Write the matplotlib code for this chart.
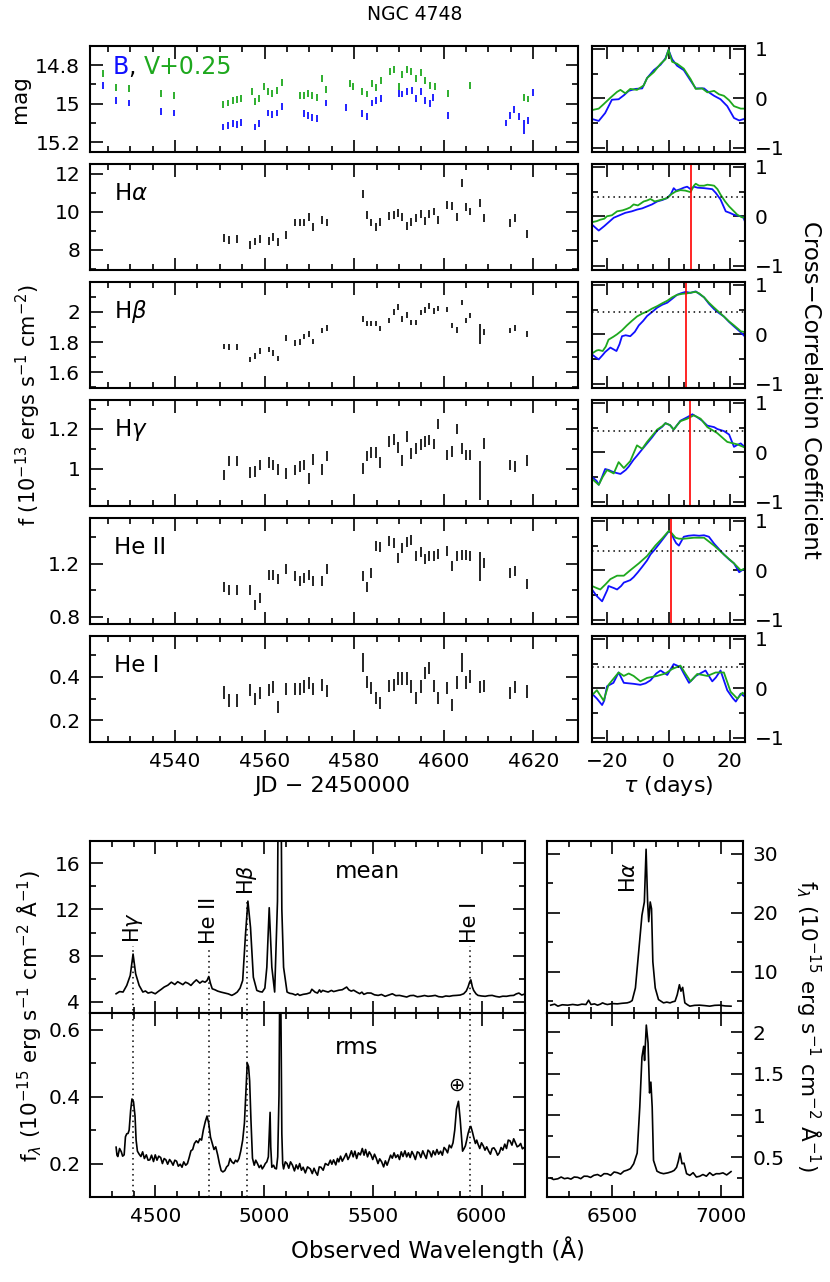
import matplotlib
matplotlib.use('Agg')
import matplotlib.pyplot as plt
from matplotlib.ticker import MultipleLocator, FuncFormatter

plt.rcParams['font.family'] = ['DejaVu Sans']
plt.rcParams['mathtext.fontset'] = 'dejavusans'

BLUE = '#1010ff'
GREEN = '#1ea81e'

# ---------------- photometry (B and V+0.25) ----------------
v_jd = [4523.8, 4526.8, 4529.8, 4536.8, 4539.8, 4550.7, 4551.8, 4552.9, 4553.8, 4554.8,
        4557.2, 4557.8, 4558.7, 4559.8, 4560.8, 4561.7, 4562.8, 4563.8, 4567.9, 4568.8,
        4569.7, 4570.6, 4571.6, 4572.9, 4573.8, 4579.0, 4579.8, 4581.8, 4582.8, 4583.9,
        4584.9, 4585.9, 4588.0, 4588.9, 4590.0, 4590.8, 4591.7, 4592.8, 4593.8, 4594.9,
        4595.8, 4596.9, 4598.0, 4600.9, 4605.8, 4617.9, 4618.8]
v_mag = [14.843, 14.918, 14.92, 14.945, 14.957, 15.004, 14.997, 14.983, 14.978, 14.974,
         14.939, 14.99, 14.974, 14.91, 14.936, 14.948, 14.93, 14.89, 14.96, 14.957,
         14.948, 14.957, 14.97, 14.87, 14.927, 14.896, 14.91, 14.939, 14.95, 14.896,
         14.918, 14.878, 14.835, 14.822, 14.913, 14.849, 14.822, 14.831, 14.87, 14.84,
         14.882, 14.904, 14.913, 14.948, 14.908, 14.969, 14.976]
v_err = [0.018] * len(v_jd)

b_jd = [4523.8, 4526.8, 4529.8, 4536.8, 4539.8, 4550.7, 4551.8, 4552.9, 4553.8, 4554.8,
        4557.8, 4558.7, 4560.8, 4561.7, 4562.8, 4563.8, 4568.8, 4569.7, 4570.6, 4571.6,
        4573.8, 4578.2, 4581.8, 4582.8, 4583.9, 4584.9, 4585.9, 4590.0, 4590.8, 4591.8,
        4592.9, 4593.8, 4594.9, 4595.8, 4596.9, 4597.7, 4600.9, 4613.9, 4614.9, 4615.8,
        4616.9, 4617.9, 4618.8, 4619.9]
b_mag = [14.904, 14.983, 14.997, 15.039, 15.049, 15.122, 15.113, 15.105, 15.108, 15.098,
         15.122, 15.105, 15.049, 15.058, 15.049, 15.014, 15.052, 15.061, 15.07, 15.078,
         14.997, 15.018, 15.052, 15.065, 14.997, 14.983, 14.974, 14.945, 14.95, 14.937,
         14.934, 14.974, 14.939, 14.983, 15.0, 14.97, 15.061, 15.101, 15.061, 15.031,
         15.066, 15.122, 15.087, 14.943]
b_err = [0.018] * 41 + [0.037, 0.018, 0.018]

# ---------------- emission-line light curves ----------------
line_jd = [4550.9, 4552.0, 4553.9, 4556.8, 4557.9, 4558.9, 4560.9, 4561.9, 4562.9, 4564.8,
           4566.8, 4567.8, 4568.9, 4569.9, 4570.9, 4572.8, 4573.9, 4581.9, 4582.8, 4583.8,
           4584.8, 4585.7, 4587.8, 4588.8, 4589.9, 4590.8, 4591.8, 4592.8, 4593.9, 4594.9,
           4595.8, 4596.8, 4597.8, 4598.8, 4600.8, 4601.9, 4602.9, 4604.0, 4605.0, 4605.9,
           4608.0, 4608.9, 4614.9, 4615.9, 4618.7]
ha_flux = [8.61, 8.53, 8.56, 8.26, 8.44, 8.56, 8.49, 8.67, 8.39, 8.79,
           9.44, 9.44, 9.44, 9.72, 9.19, 9.58, 9.44, 10.93, 9.84, 9.44,
           9.19, 9.49, 9.79, 9.84, 9.96, 9.72, 9.26, 9.49, 9.67, 9.88,
           9.54, 9.89, 10.02, 9.58, 10.37, 10.32, 9.75, 11.54, 10.25, 10.02,
           10.49, 9.70, 9.40, 9.67, 8.84]
ha_err = [0.21] * 45
hb_flux = [1.772, 1.767, 1.767, 1.685, 1.707, 1.741, 1.75, 1.728, 1.691, 1.826,
           1.793, 1.80, 1.837, 1.854, 1.804, 1.876, 1.893, 1.952, 1.924, 1.924,
           1.924, 1.891, 1.941, 2.0, 2.033, 1.952, 1.98, 1.93, 1.93, 1.996,
           2.011, 2.039, 2.007, 2.024, 2.017, 1.909, 1.88, 2.061, 1.941, 1.974,
           1.854, 1.865, 1.876, 1.893, 1.854]
hb_err = [0.018] * 40 + [0.067] + [0.018] * 4
hg_flux = [0.97, 1.04, 1.04, 0.983, 0.987, 1.02, 1.032, 1.02, 0.998, 0.978,
           0.995, 1.012, 1.02, 0.953, 1.048, 0.998, 1.065, 1.003, 1.065, 1.082,
           1.082, 1.033, 1.137, 1.148, 1.108, 1.042, 1.162, 1.078, 1.103, 1.123,
           1.137, 1.145, 1.125, 1.225, 1.07, 1.087, 1.2, 1.103, 1.07, 1.07,
           0.942, 1.128, 1.02, 1.012, 1.042]
hg_err = [0.026] * 40 + [0.096] + [0.026] * 4
he2_flux = [1.026, 1.006, 1.006, 1.006, 0.893, 0.943, 1.119, 1.119, 1.087, 1.162,
            1.112, 1.074, 1.094, 1.119, 1.069, 1.069, 1.162, 1.107, 1.026, 1.132,
            1.333, 1.328, 1.371, 1.358, 1.245, 1.321, 1.364, 1.384, 1.263, 1.288,
            1.238, 1.258, 1.263, 1.278, 1.296, 1.182, 1.263, 1.27, 1.27, 1.263,
            1.182, 1.208, 1.132, 1.145, 1.052]
he2_err = [0.038] * 40 + [0.11] + [0.038] * 4
he1_flux = [0.327, 0.291, 0.291, 0.339, 0.297, 0.324, 0.339, 0.352, 0.261, 0.342,
            0.342, 0.342, 0.355, 0.37, 0.342, 0.362, 0.336, 0.465, 0.377, 0.347,
            0.302, 0.279, 0.358, 0.362, 0.392, 0.392, 0.392, 0.355, 0.302, 0.355,
            0.418, 0.438, 0.358, 0.302, 0.347, 0.271, 0.373, 0.464, 0.373, 0.40,
            0.352, 0.358, 0.324, 0.352, 0.332]
he1_err = [0.028] * 17 + [0.042] + [0.028] * 19 + [0.042] + [0.028] * 7

# ---------------- cross-correlation functions ----------------
acf_b_tau = [-25.0, -22.8, -20.7, -18.5, -16.3, -14.6, -13.0, -10.8, -8.6, -7.0, -4.8, -2.6, -1.0, 0.0,
             1.2, 2.8, 5.0, 7.2, 8.9, 11.6, 13.2, 14.9, 17.0, 19.2, 21.4, 23.1, 24.7, 25.2]
acf_b = [-0.42, -0.46, -0.30, -0.03, -0.02, 0.06, 0.15, 0.19, 0.20, 0.41, 0.57, 0.68, 0.81, 0.98,
         0.79, 0.66, 0.57, 0.36, 0.20, 0.20, 0.12, 0.05, -0.02, -0.16, -0.40, -0.45, -0.42, -0.43]
acf_v_tau = [-25.0, -22.8, -21.2, -19.0, -16.8, -15.7, -14.1, -12.5, -10.3, -8.1, -7.0, -4.8, -2.6, -1.0,
             0.0, 1.2, 2.8, 5.0, 7.2, 8.9, 11.0, 12.7, 14.9, 16.5, 18.1, 19.8, 21.4, 23.6, 25.2]
acf_v = [-0.24, -0.21, -0.12, 0.01, 0.13, 0.17, 0.10, 0.19, 0.17, 0.26, 0.41, 0.53, 0.70, 0.79,
         0.98, 0.74, 0.70, 0.60, 0.39, 0.19, 0.20, 0.12, 0.15, 0.08, 0.05, -0.04, -0.16, -0.21, -0.21]

ha_b_tau = [-25.0, -22.8, -21.0, -17.9, -16.0, -14.1, -12.0, -10.3, -8.6, -7.0, -5.4, -3.7, -2.0, -0.4,
            0.8, 1.7, 2.5, 3.9, 5.0, 6.1, 7.2, 8.3, 9.5, 11.6, 13.0, 14.3, 15.5, 17.0, 18.7, 20.0,
            21.4, 23.6, 24.5, 25.2]
ha_b = [-0.17, -0.29, -0.20, -0.03, 0.02, 0.07, 0.10, 0.135, 0.16, 0.20, 0.24, 0.30, 0.33, 0.37,
        0.45, 0.57, 0.52, 0.55, 0.58, 0.60, 0.55, 0.60, 0.58, 0.57, 0.56, 0.55, 0.47, 0.34, 0.10, 0.07,
        0.03, 0.0, -0.03, -0.14]
ha_v_tau = [-25.0, -23.5, -22.3, -21.0, -20.1, -18.5, -16.8, -15.0, -13.6, -12.5, -11.4, -10.0, -8.1,
            -7.0, -5.9, -4.5, -2.6, -0.4, 1.0, 2.3, 3.9, 5.5, 7.2, 8.3, 8.9, 10.0, 11.6, 12.7, 14.0,
            14.9, 16.0, 17.0, 18.5, 19.8, 21.4, 22.5, 24.0, 25.2]
ha_v = [-0.12, -0.10, -0.07, -0.05, 0.0, 0.02, 0.10, 0.12, 0.15, 0.18, 0.24, 0.22, 0.30,
        0.32, 0.35, 0.30, 0.33, 0.37, 0.45, 0.50, 0.53, 0.52, 0.49, 0.62, 0.66, 0.62, 0.62, 0.64, 0.63,
        0.62, 0.55, 0.44, 0.30, 0.20, 0.10, 0.03, -0.02, -0.03]

hb_b_tau = [-25.0, -23.5, -22.8, -21.5, -20.7, -19.0, -17.0, -16.0, -15.2, -14.0, -12.5, -11.0, -9.7,
            -8.3, -7.0, -5.4, -3.7, -2.0, -0.4, 1.2, 2.8, 4.0, 5.6, 7.2, 8.9, 10.0, 11.6, 13.2, 14.9,
            16.5, 18.1, 19.8, 21.4, 22.5, 23.6, 25.2]
hb_b = [-0.41, -0.48, -0.51, -0.42, -0.36, -0.27, -0.34, -0.20, -0.04, -0.02, -0.04, 0.05, 0.18,
        0.27, 0.37, 0.45, 0.54, 0.60, 0.64, 0.72, 0.80, 0.83, 0.86, 0.84, 0.87, 0.82, 0.75, 0.62, 0.51,
        0.43, 0.36, 0.25, 0.16, 0.10, 0.04, -0.06]
hb_v_tau = [-25.0, -23.5, -22.8, -21.5, -20.5, -19.6, -18.0, -16.8, -15.2, -13.6, -12.0, -10.3, -8.6,
            -7.0, -5.4, -3.7, -2.0, -0.4, 1.2, 2.8, 4.5, 6.1, 7.8, 8.9, 10.0, 11.6, 13.2, 14.9, 16.5,
            18.1, 19.8, 21.4, 23.1, 23.6, 25.2]
hb_v = [-0.39, -0.33, -0.32, -0.34, -0.25, -0.11, -0.05, 0.0, 0.08, 0.18, 0.27, 0.36, 0.42,
        0.46, 0.52, 0.57, 0.63, 0.68, 0.75, 0.80, 0.82, 0.83, 0.85, 0.86, 0.83, 0.75, 0.64, 0.54, 0.45,
        0.36, 0.26, 0.18, 0.09, 0.06, 0.04]

hg_b_tau = [-25.0, -23.5, -22.8, -21.7, -20.7, -19.5, -18.5, -17.0, -15.7, -14.0, -13.0, -11.4, -10.3,
            -8.6, -7.0, -5.4, -3.7, -2.0, -1.0, 0.5, 1.7, 2.8, 3.9, 6.1, 7.8, 9.4, 11.0, 12.7, 14.9,
            16.0, 18.1, 19.8, 21.4, 22.5, 23.6, 25.2]
hg_b = [-0.50, -0.58, -0.66, -0.50, -0.34, -0.36, -0.39, -0.42, -0.44, -0.36, -0.29, -0.15, -0.07,
        0.06, 0.18, 0.30, 0.44, 0.52, 0.59, 0.55, 0.46, 0.55, 0.64, 0.71, 0.77, 0.71, 0.64, 0.54, 0.51,
        0.47, 0.43, 0.36, 0.11, 0.15, 0.18, 0.09]
hg_v_tau = [-25.0, -22.8, -21.5, -20.1, -18.8, -17.9, -16.3, -14.6, -12.5, -10.3, -8.6, -7.0, -5.4,
            -3.7, -2.0, -1.0, 0.5, 1.7, 2.8, 3.9, 6.1, 8.3, 10.5, 12.7, 15.9, 19.2, 22.5, 25.2]
hg_v = [-0.54, -0.66, -0.50, -0.36, -0.40, -0.43, -0.20, -0.32, -0.18, 0.14, 0.07, 0.21, 0.33,
        0.46, 0.53, 0.59, 0.55, 0.46, 0.55, 0.63, 0.68, 0.75, 0.68, 0.51, 0.39, 0.21, 0.16, 0.09]

he2_b_tau = [-25.0, -23.5, -21.7, -20.0, -19.6, -17.9, -16.8, -15.5, -14.6, -12.5, -11.4, -10.0, -8.6,
             -7.0, -5.9, -4.5, -2.6, -1.0, 0.1, 1.0, 1.7, 2.5, 3.4, 5.0, 6.5, 8.3, 10.0, 11.6, 13.2,
             14.9, 16.5, 18.1, 19.8, 21.4, 23.1, 24.0, 25.2]
he2_b = [-0.39, -0.52, -0.63, -0.40, -0.32, -0.36, -0.39, -0.32, -0.25, -0.20, -0.14, -0.04, 0.07,
         0.20, 0.32, 0.42, 0.57, 0.70, 0.79, 0.75, 0.64, 0.55, 0.50, 0.68, 0.70, 0.71, 0.70, 0.71, 0.68,
         0.54, 0.43, 0.32, 0.22, 0.14, -0.04, 0.0, 0.04]
he2_v_tau = [-25.0, -23.5, -22.3, -20.5, -19.0, -16.8, -14.6, -12.5, -9.7, -7.0, -4.3, -2.0, 0.1,
             1.2, 2.3, 3.4, 5.0, 8.3, 11.6, 14.9, 18.1, 21.4, 23.6, 25.2]
he2_v = [-0.32, -0.36, -0.39, -0.28, -0.18, -0.11, -0.11, 0.0, 0.14, 0.29, 0.50, 0.65, 0.80,
         0.74, 0.66, 0.64, 0.64, 0.66, 0.66, 0.50, 0.32, 0.14, 0.0, 0.04]

he1_b_tau = [-25.0, -23.4, -21.7, -21.0, -20.1, -18.0, -16.3, -14.6, -11.4, -9.2, -7.5, -5.9, -4.0,
             -2.6, -0.4, 1.7, 3.9, 5.0, 6.7, 8.9, 12.1, 14.3, 15.5, 17.0, 19.2, 21.0, 22.0, 23.6, 25.2]
he1_b = [-0.11, -0.21, -0.34, -0.25, 0.04, 0.11, 0.32, 0.11, 0.09, 0.07, 0.10, 0.16, 0.30,
         0.36, 0.27, 0.49, 0.43, 0.30, 0.11, 0.25, 0.36, 0.14, 0.22, 0.36, -0.04, -0.20, -0.27, -0.11, -0.18]
he1_v_tau = [-25.0, -23.4, -21.2, -19.6, -16.3, -14.6, -13.0, -11.4, -9.2, -7.0, -3.7, -1.0, 1.2,
             3.9, 5.5, 7.2, 9.4, 12.7, 15.4, 18.1, 20.3, 22.5, 24.2, 25.2]
he1_v = [-0.14, -0.04, -0.25, 0.07, 0.32, 0.25, 0.30, 0.25, 0.14, 0.21, 0.25, 0.30, 0.39,
         0.46, 0.30, 0.14, 0.29, 0.25, 0.32, 0.32, -0.07, -0.21, -0.09, -0.14]

lag_peak = [None, 7.5, 5.7, 7.1, 0.9, None]
ccf_level = [None, 0.39, 0.46, 0.43, 0.39, 0.44]

# ---------------- spectra ----------------
blue_wave = [4320, 4336, 4352, 4369, 4385, 4398, 4410, 4426, 4443, 4455, 4467, 4483, 4500, 4516,
             4528, 4541, 4558, 4574, 4590, 4603, 4615, 4627, 4639, 4652, 4664, 4677, 4689, 4705,
             4717, 4729, 4738, 4746, 4754, 4762, 4775, 4787, 4803, 4820, 4836, 4852, 4865, 4877,
             4890, 4902, 4915, 4926, 4938, 4951, 4967, 4980, 4992, 5004, 5013, 5024, 5036, 5049,
             5062, 5072, 5082, 5090, 5106, 5118, 5131, 5145, 5155, 5164, 5180, 5197, 5212, 5220,
             5226, 5235, 5246, 5255, 5262, 5270, 5283, 5295, 5310, 5320, 5328, 5345, 5360, 5372,
             5380, 5390, 5401, 5412, 5426, 5440, 5450, 5459, 5475, 5492, 5508, 5525, 5540, 5557,
             5573, 5590, 5606, 5623, 5640, 5656, 5672, 5688, 5705, 5721, 5738, 5754, 5770, 5787,
             5803, 5820, 5836, 5852, 5868, 5885, 5902, 5918, 5930, 5938, 5945, 5951, 5958, 5964,
             5975, 5984, 6000, 6017, 6033, 6049, 6066, 6082, 6098, 6115, 6131, 6148, 6160, 6172,
             6185, 6194]
mean_blue = [4.71, 4.9, 4.86, 5.43, 6.29, 8.14, 6.43, 5.43, 4.86, 4.95, 4.77, 4.85, 4.71, 4.94,
             5.1, 5.29, 5.45, 5.71, 5.51, 5.75, 5.63, 5.5, 5.71, 5.6, 5.43, 5.7, 5.91, 5.63,
             5.8, 5.71, 5.85, 6.2, 5.6, 5.14, 5.05, 4.94, 4.85, 4.77, 4.7, 4.57, 4.7, 4.86,
             5.2, 5.86, 9.86, 12.71, 10.43, 6.14, 5.0, 4.9, 4.86, 5.2, 7.0, 12.14, 7.0, 4.86,
             12.7, 40.0, 12.0, 7.0, 4.86, 4.75, 4.71, 4.6, 4.7, 4.57, 4.66, 4.71, 4.8, 5.1,
             5.0, 4.85, 4.77, 5.05, 4.85, 5.0, 4.92, 4.86, 5.0, 4.9, 4.94, 5.02, 5.06, 5.2,
             5.29, 5.05, 4.94, 5.02, 4.86, 4.72, 4.85, 4.66, 4.78, 4.77, 4.62, 4.57, 4.65, 4.49,
             4.6, 4.71, 4.55, 4.57, 4.5, 4.43, 4.55, 4.57, 4.45, 4.49, 4.56, 4.49, 4.52, 4.57,
             4.46, 4.43, 4.52, 4.49, 4.55, 4.57, 4.6, 4.71, 4.95, 5.29, 5.7, 5.91, 5.3, 5.0,
             4.7, 4.57, 4.52, 4.49, 4.55, 4.57, 4.48, 4.43, 4.5, 4.49, 4.55, 4.57, 4.7, 4.77,
             4.6, 4.66]
rms_wave = [4320, 4324, 4328, 4336, 4344, 4350, 4357, 4363, 4369, 4375, 4380, 4387, 4393, 4400,
            4407, 4412, 4418, 4426, 4434, 4442, 4450, 4459, 4467, 4475, 4483, 4492, 4500, 4508,
            4516, 4525, 4533, 4541, 4549, 4557, 4566, 4574, 4582, 4590, 4598, 4606, 4615, 4623,
            4631, 4640, 4648, 4656, 4664, 4672, 4680, 4689, 4697, 4705, 4713, 4721, 4730, 4738,
            4746, 4754, 4762, 4770, 4778, 4787, 4795, 4803, 4811, 4820, 4828, 4836, 4844, 4852,
            4861, 4869, 4877, 4885, 4893, 4902, 4910, 4917, 4923, 4929, 4934, 4940, 4947, 4955,
            4962, 4970, 4978, 4986, 4992, 5000, 5006, 5013, 5020, 5025, 5028, 5031, 5036, 5044,
            5050, 5057, 5063, 5069, 5072, 5075, 5078, 5082, 5086, 5090, 5098, 5106, 5114, 5122,
            5131, 5140, 5148, 5156, 5164, 5172, 5180, 5190, 5200, 5213, 5222, 5230, 5238, 5246,
            5254, 5262, 5272, 5282, 5295, 5305, 5312, 5320, 5330, 5338, 5344, 5352, 5360, 5369,
            5378, 5386, 5393, 5402, 5410, 5418, 5426, 5434, 5443, 5452, 5460, 5467, 5476, 5484,
            5492, 5500, 5508, 5516, 5524, 5532, 5541, 5550, 5558, 5566, 5574, 5582, 5590, 5598,
            5606, 5615, 5623, 5631, 5639, 5648, 5656, 5664, 5672, 5680, 5688, 5696, 5705, 5713,
            5721, 5730, 5738, 5746, 5754, 5762, 5770, 5778, 5787, 5795, 5803, 5812, 5820, 5828,
            5836, 5844, 5852, 5861, 5869, 5877, 5885, 5894, 5902, 5908, 5913, 5920, 5926, 5932,
            5938, 5945, 5951, 5958, 5964, 5972, 5978, 5984, 5992, 6000, 6008, 6016, 6024, 6033,
            6041, 6049, 6057, 6066, 6074, 6082, 6090, 6098, 6107, 6115, 6123, 6131, 6140, 6148,
            6156, 6164, 6172, 6180, 6188, 6194]
rms_blue = [0.249, 0.225, 0.221, 0.245, 0.235, 0.222, 0.226, 0.28, 0.289, 0.29, 0.30, 0.36, 0.393, 0.385,
            0.342, 0.27, 0.237, 0.228, 0.221, 0.235, 0.215, 0.226, 0.21, 0.211, 0.225, 0.206, 0.226, 0.21,
            0.222, 0.218, 0.20, 0.215, 0.211, 0.198, 0.212, 0.205, 0.195, 0.21, 0.207, 0.192, 0.198, 0.189,
            0.205, 0.195, 0.20, 0.218, 0.238, 0.242, 0.26, 0.268, 0.262, 0.274, 0.27, 0.30, 0.325, 0.342,
            0.32, 0.279, 0.26, 0.242, 0.25, 0.226, 0.20, 0.179, 0.175, 0.179, 0.19, 0.195, 0.215, 0.205,
            0.20, 0.21, 0.205, 0.215, 0.237, 0.27, 0.321, 0.42, 0.50, 0.49, 0.447, 0.33, 0.216, 0.195,
            0.21, 0.20, 0.188, 0.195, 0.184, 0.192, 0.20, 0.205, 0.22, 0.30, 0.353, 0.25, 0.189, 0.195,
            0.186, 0.184, 0.22, 0.405, 0.70, 0.90, 0.65, 0.289, 0.20, 0.184, 0.205, 0.20, 0.186, 0.205,
            0.195, 0.178, 0.196, 0.184, 0.20, 0.18, 0.189, 0.172, 0.19, 0.184, 0.17, 0.186, 0.174, 0.165,
            0.19, 0.189, 0.18, 0.20, 0.195, 0.21, 0.198, 0.211, 0.196, 0.215, 0.205, 0.222, 0.207, 0.218,
            0.23, 0.212, 0.221, 0.238, 0.22, 0.237, 0.215, 0.232, 0.226, 0.245, 0.225, 0.242, 0.22, 0.235,
            0.226, 0.212, 0.228, 0.216, 0.20, 0.214, 0.205, 0.19, 0.208, 0.195, 0.21, 0.225, 0.216, 0.232,
            0.218, 0.226, 0.212, 0.235, 0.221, 0.238, 0.22, 0.232, 0.218, 0.236, 0.226, 0.212, 0.235, 0.232,
            0.218, 0.238, 0.226, 0.215, 0.24, 0.235, 0.22, 0.238, 0.226, 0.242, 0.228, 0.237, 0.225, 0.248,
            0.242, 0.232, 0.255, 0.247, 0.262, 0.30, 0.363, 0.386, 0.332, 0.28, 0.237, 0.245, 0.253, 0.27,
            0.289, 0.305, 0.311, 0.295, 0.279, 0.26, 0.27, 0.258, 0.245, 0.262, 0.253, 0.24, 0.25, 0.237,
            0.228, 0.245, 0.247, 0.238, 0.225, 0.232, 0.248, 0.24, 0.258, 0.245, 0.27, 0.268, 0.255, 0.274,
            0.262, 0.25, 0.253, 0.26, 0.244, 0.247]

red_wave = [6217, 6235, 6250, 6270, 6295, 6318, 6341, 6360, 6379, 6391, 6402, 6418, 6432, 6445,
            6455, 6466, 6477, 6500, 6523, 6545, 6568, 6580, 6591, 6606, 6621, 6636, 6647, 6655,
            6662, 6667, 6674, 6680, 6686, 6697, 6712, 6735, 6750, 6765, 6777, 6788, 6798, 6808,
            6815, 6823, 6833, 6845, 6856, 6878, 6901, 6925, 6947, 6970, 6992, 7018, 7045]
mean_red = [4.33, 4.5, 4.16, 4.4, 4.33, 4.45, 4.33, 4.5, 4.44, 5.17, 4.44, 4.55, 4.33, 4.5,
            4.72, 4.55, 4.44, 4.6, 4.55, 4.65, 4.72, 4.85, 5.11, 7.25, 13.4, 19.6, 21.85, 30.8,
            21.85, 18.5, 21.85, 20.7, 11.7, 7.25, 5.28, 4.72, 4.85, 4.72, 4.9, 5.0, 6.1, 7.8,
            6.7, 7.35, 4.72, 4.4, 4.16, 4.3, 4.33, 4.25, 4.16, 4.3, 4.33, 4.2, 4.16]
rms_red_wave = [6217, 6230, 6250, 6265, 6280, 6295, 6310, 6325, 6341, 6355, 6370, 6386, 6400, 6415,
                6432, 6447, 6462, 6477, 6492, 6508, 6523, 6538, 6553, 6568, 6583, 6598, 6614, 6626,
                6636, 6644, 6648, 6656, 6664, 6671, 6677, 6683, 6689, 6705, 6720, 6735, 6755, 6773,
                6784, 6795, 6803, 6811, 6820, 6829, 6841, 6856, 6871, 6886, 6901, 6916, 6932, 6947,
                6962, 6977, 6992, 7008, 7025, 7045]
rms_red = [0.248, 0.23, 0.239, 0.26, 0.24, 0.248, 0.235, 0.26, 0.256, 0.24, 0.27, 0.269, 0.255, 0.28,
           0.29, 0.27, 0.30, 0.299, 0.28, 0.32, 0.312, 0.295, 0.33, 0.342, 0.36, 0.419, 0.547, 1.1,
           1.7, 1.83, 1.66, 2.085, 1.87, 1.27, 1.4, 1.1, 0.46, 0.33, 0.31, 0.30, 0.31, 0.325,
           0.34, 0.376, 0.45, 0.547, 0.419, 0.427, 0.30, 0.28, 0.312, 0.26, 0.269, 0.29, 0.27, 0.312,
           0.28, 0.30, 0.299, 0.31, 0.285, 0.325]

line_marks = ['H$\\gamma$', 'He II', 'H$\\beta$', 'He I']
line_wave = [4397, 4746, 4921, 5947]
line_top = [9.1, 9.0, 13.2, 9.1]

W, H = 830, 1282
fig = plt.figure(figsize=(W / 100, H / 100), dpi=100)


def px_axes(x0, y0, x1, y1):
    return fig.add_axes([x0 / W, 1 - y1 / H, (x1 - x0) / W, (y1 - y0) / H])


def ftext(x, y, s, **kw):
    fig.text(x / W, 1 - y / H, s, **kw)


def fmt(v, pos):
    if abs(v) < 1e-9:
        v = 0.0
    return ('%g' % v).replace('-', '\u2212')


def style(ax, xmaj, xmin, ymaj, ymin, right=False, xlab=True):
    ax.xaxis.set_major_locator(MultipleLocator(xmaj))
    ax.xaxis.set_minor_locator(MultipleLocator(xmin))
    ax.yaxis.set_major_locator(MultipleLocator(ymaj))
    ax.yaxis.set_minor_locator(MultipleLocator(ymin))
    ax.xaxis.set_major_formatter(FuncFormatter(fmt))
    ax.yaxis.set_major_formatter(FuncFormatter(fmt))
    ax.tick_params(which='both', direction='in', top=True, right=True, labelsize=14.5,
                   width=1.2, pad=7)
    ax.tick_params(which='major', length=9)
    ax.tick_params(which='minor', length=4.5)
    if right:
        ax.tick_params(labelleft=False, labelright=True)
    if not xlab:
        ax.tick_params(labelbottom=False)
    for s in ax.spines.values():
        s.set_linewidth(1.5)


rows = [(46, 152), (164, 270), (282, 388), (400, 506), (518, 624), (636, 742)]

# light-curve panels
ax = px_axes(90, rows[0][0], 578, rows[0][1])
ax.errorbar(v_jd, v_mag, yerr=v_err, fmt='none', ecolor=GREEN, elinewidth=1.3, capsize=0)
ax.errorbar(b_jd, b_mag, yerr=b_err, fmt='none', ecolor=BLUE, elinewidth=1.3, capsize=0)
ax.set_xlim(4521, 4630)
ax.set_ylim(15.252, 14.70)
style(ax, 20, 5, 0.2, 0.1, xlab=False)
t1 = ax.text(0.047, 0.74, 'B', color=BLUE, fontsize=17, transform=ax.transAxes, va='baseline')
t2 = ax.annotate(', ', xy=(1, 0), xycoords=t1, fontsize=17, color='k', va='bottom')
ax.annotate('V+0.25', xy=(1, 0), xycoords=t2, fontsize=17, color=GREEN, va='bottom')

panels = [
    ('H$\\alpha$', ha_flux, ha_err, (6.94, 12.52), 2, 1),
    ('H$\\beta$', hb_flux, hb_err, (1.495, 2.198), 0.2, 0.1),
    ('H$\\gamma$', hg_flux, hg_err, (0.815, 1.345), 0.2, 0.1),
    ('He II', he2_flux, he2_err, (0.747, 1.547), 0.4, 0.2),
    ('He I', he1_flux, he1_err, (0.102, 0.585), 0.2, 0.1),
]
for i, (name, flux, err, ylim, ymaj, ymin) in enumerate(panels):
    r = rows[i + 1]
    ax = px_axes(90, r[0], 578, r[1])
    ax.errorbar(line_jd, flux, yerr=err, fmt='none', ecolor='k', elinewidth=1.2, capsize=0)
    ax.set_xlim(4521, 4630)
    ax.set_ylim(*ylim)
    style(ax, 20, 5, ymaj, ymin, xlab=(i == 4))
    ax.text(0.05, 0.72, name, transform=ax.transAxes, fontsize=16.5, va='center')

# CCF panels
ccfs = [
    (acf_b_tau, acf_b, acf_v_tau, acf_v),
    (ha_b_tau, ha_b, ha_v_tau, ha_v),
    (hb_b_tau, hb_b, hb_v_tau, hb_v),
    (hg_b_tau, hg_b, hg_v_tau, hg_v),
    (he2_b_tau, he2_b, he2_v_tau, he2_v),
    (he1_b_tau, he1_b, he1_v_tau, he1_v),
]
for i, (tb, cb, tv, cv) in enumerate(ccfs):
    r = rows[i]
    ax = px_axes(592, r[0], 745, r[1])
    ax.plot(tb, cb, color=BLUE, lw=1.3)
    ax.plot(tv, cv, color=GREEN, lw=1.3)
    if ccf_level[i] is not None:
        ax.axhline(ccf_level[i], color='k', lw=1.1, ls=(0, (1, 2.5)))
    if lag_peak[i] is not None:
        ax.axvline(lag_peak[i], color='red', lw=1.2)
    ax.set_xlim(-25, 25)
    ax.set_ylim(-1.09, 1.06)
    style(ax, 20, 5, 1, 0.5, right=True, xlab=(i == 5))

# spectra
sp_rows = [(841, 1013), (1013, 1197)]
ax = px_axes(90, sp_rows[0][0], 525, sp_rows[0][1])
ax.plot(blue_wave, mean_blue, color='k', lw=1.2)
ax.set_xlim(4200, 6200)
ax.set_ylim(3.05, 17.9)
style(ax, 500, 100, 4, 2, xlab=False)
for name, wl, top in zip(line_marks, line_wave, line_top):
    ax.plot([wl, wl], [0, top - 0.3], color='k', lw=1.1, ls=(0, (1, 2.5)))
    ax.text(wl, top, name, rotation=90, ha='center', va='bottom', fontsize=15)
ax.text(5475, 15.3, 'mean', ha='center', va='center', fontsize=16.5)

ax = px_axes(90, sp_rows[1][0], 525, sp_rows[1][1])
ax.plot(rms_wave, rms_blue, color='k', lw=1.2)
ax.set_xlim(4200, 6200)
ax.set_ylim(0.1, 0.65)
style(ax, 500, 100, 0.2, 0.1)
for wl in line_wave:
    ax.axvline(wl, color='k', lw=1.1, ls=(0, (1, 2.5)))
ax.text(5426, 0.547, 'rms', ha='center', va='center', fontsize=16.5)
ax.text(5885, 0.435, '\u2295', ha='center', va='center', fontsize=14)

ax = px_axes(547, sp_rows[0][0], 743, sp_rows[0][1])
ax.plot(red_wave, mean_red, color='k', lw=1.2)
ax.set_xlim(6200, 7100)
ax.set_ylim(3.0, 32.2)
style(ax, 500, 100, 10, 5, right=True, xlab=False)
ax.text(6576, 23.4, 'H$\\alpha$', rotation=90, ha='center', va='bottom', fontsize=15)

ax = px_axes(547, sp_rows[1][0], 743, sp_rows[1][1])
ax.plot(rms_red_wave, rms_red, color='k', lw=1.2)
ax.set_xlim(6200, 7100)
ax.set_ylim(0.02, 2.23)
style(ax, 500, 100, 0.5, 0.25, right=True)

# figure labels
ftext(415, 15, 'NGC 4748', ha='center', va='center', fontsize=13.5)
ftext(20, 99, 'mag', rotation=90, ha='center', va='center', fontsize=15.5)
ftext(28, 405, 'f (10$^{-13}$ ergs s$^{-1}$ cm$^{-2}$)', rotation=90, ha='center', va='center', fontsize=15)
ftext(332, 786, 'JD \u2212 2450000', ha='center', va='center', fontsize=16)
ftext(668, 786, '$\\tau$ (days)', ha='center', va='center', fontsize=16)
ftext(810, 390, 'Cross\u2212Correlation Coefficient', rotation=-90, ha='center', va='center', fontsize=16.5)
ftext(30, 1016, 'f$_\\lambda$ (10$^{-15}$ erg s$^{-1}$ cm$^{-2}$ \u00c5$^{-1}$)', rotation=90,
      ha='center', va='center', fontsize=15.5)
ftext(808, 1026, 'f$_\\lambda$ (10$^{-15}$ erg s$^{-1}$ cm$^{-2}$ \u00c5$^{-1}$)', rotation=-90,
      ha='center', va='center', fontsize=15.5)
ftext(438, 1250, 'Observed Wavelength (\u00c5)', ha='center', va='center', fontsize=16.5)

fig.savefig('out.png', dpi=100)
